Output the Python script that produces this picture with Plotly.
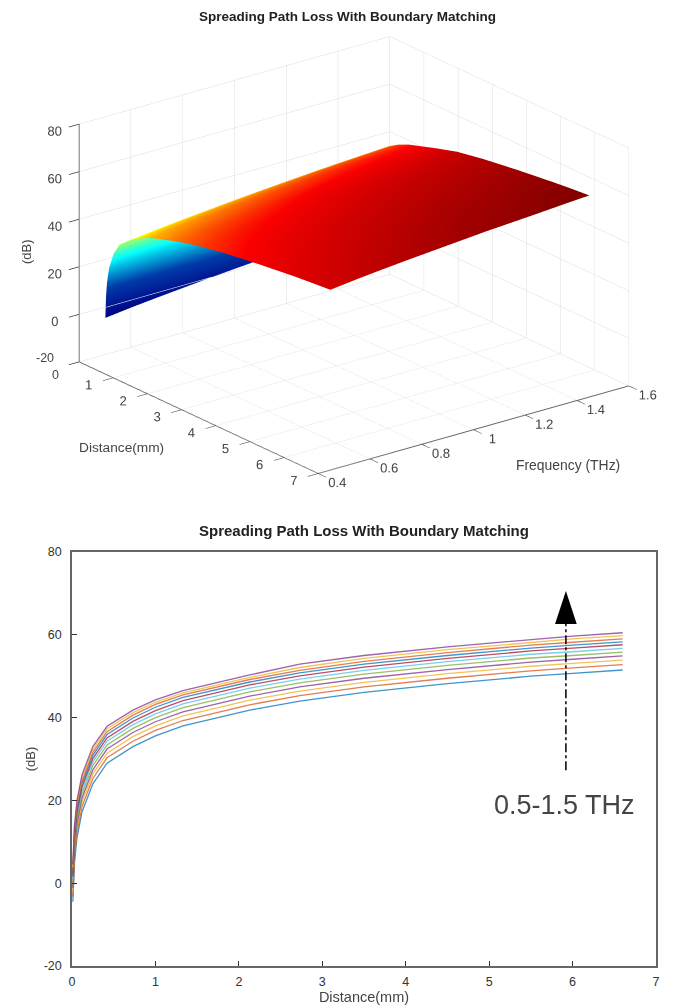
import plotly.graph_objects as go

distance_mm = [0.01, 0.03, 0.06, 0.12, 0.25, 0.42, 0.73, 1.0, 1.33, 2.13, 2.73, 3.5, 4.5, 5.5, 6.0, 6.6]
frequency_thz = [0.5, 0.6, 0.7, 0.8, 0.9, 1.0, 1.1, 1.2, 1.3, 1.4, 1.5]
loss_05 = [-4.5, 5.0, 11.0, 17.2, 24.0, 29.0, 33.0, 35.6, 38.0, 41.8, 44.0, 46.1, 48.2, 50.0, 50.7, 51.5]
loss_06 = [-3.2, 6.3, 12.3, 18.5, 25.3, 30.3, 34.3, 36.9, 39.3, 43.1, 45.3, 47.4, 49.5, 51.3, 52.0, 52.8]
loss_07 = [-2.1, 7.4, 13.4, 19.6, 26.4, 31.4, 35.4, 38.0, 40.4, 44.2, 46.4, 48.5, 50.6, 52.4, 53.1, 53.9]
loss_08 = [-1.1, 8.4, 14.4, 20.6, 27.4, 32.4, 36.4, 39.0, 41.4, 45.2, 47.4, 49.5, 51.6, 53.4, 54.1, 54.9]
loss_09 = [-0.1, 9.4, 15.4, 21.6, 28.4, 33.4, 37.4, 40.0, 42.4, 46.2, 48.4, 50.5, 52.6, 54.4, 55.0, 55.8]
loss_10 = [0.8, 10.3, 16.3, 22.5, 29.3, 34.3, 38.3, 40.9, 43.3, 47.1, 49.3, 51.4, 53.5, 55.3, 55.9, 56.7]
loss_11 = [1.6, 11.1, 17.1, 23.3, 30.1, 35.1, 39.1, 41.7, 44.1, 47.9, 50.1, 52.2, 54.3, 56.1, 56.8, 57.6]
loss_12 = [2.4, 11.9, 17.9, 24.1, 30.9, 35.9, 39.9, 42.5, 44.9, 48.6, 50.8, 52.9, 55.0, 56.8, 57.5, 58.3]
loss_13 = [3.1, 12.6, 18.6, 24.8, 31.6, 36.6, 40.6, 43.2, 45.5, 49.2, 51.4, 53.6, 55.7, 57.5, 58.2, 59.0]
loss_14 = [3.8, 13.3, 19.3, 25.5, 32.3, 37.3, 41.2, 43.7, 46.0, 49.7, 52.1, 54.3, 56.4, 58.2, 59.0, 59.8]
loss_15 = [4.5, 14.0, 20.0, 26.2, 33.0, 37.9, 41.8, 44.3, 46.5, 50.3, 52.9, 55.0, 57.1, 58.9, 59.7, 60.5]
loss_rows = [loss_05, loss_06, loss_07, loss_08, loss_09, loss_10, loss_11, loss_12, loss_13, loss_14, loss_15]
line_colors = ["#0072BD", "#D95319", "#EDB120", "#7E2F8E", "#77AC30", "#4DBEEE", "#A2142F",
               "#0072BD", "#D95319", "#EDB120", "#7E2F8E"]
z_ticks = [-20, 0, 20, 40, 60, 80]
z_tick_text = ["-20", "0", "20", "40", "60", "80"]
z_tick_text_3d = ["", "0", "20", "40", "60", "80"]
d_ticks_3d = [0, 1, 2, 3, 4, 5, 6, 7]
d_tick_text_3d = ["", "1", "2", "3", "4", "5", "6", "7"]
TITLE = "Spreading Path Loss With Boundary Matching"
FONT = "Liberation Sans, Arial, sans-serif"
GRID = "#dcdcdc"
AXIS = "#666666"

fig = go.Figure()
fig.add_trace(go.Surface(
    x=distance_mm, y=frequency_thz, z=loss_rows, colorscale="Jet", cmin=-5, cmax=60.5,
    showscale=False, lighting=dict(ambient=1, diffuse=0, specular=0, fresnel=0, roughness=1),
    contours=dict(z=dict(show=True, start=0, end=0.5, size=1, color="white", width=1)),
    scene="scene"))
for f, row, c in zip(frequency_thz, loss_rows, line_colors):
    fig.add_trace(go.Scatter(x=distance_mm, y=row, mode="lines", name=f"{f} THz",
                             line=dict(color=c, width=1.3), opacity=0.75,
                             xaxis="x", yaxis="y", showlegend=False))


def axis3d(rng, dtick, tick0):
    return dict(range=rng, dtick=dtick, tick0=tick0, title=dict(text=""), showbackground=False,
                showgrid=True, gridcolor=GRID, gridwidth=1, zeroline=False,
                showline=True, linecolor=AXIS, linewidth=2, ticks="outside", ticklen=13,
                tickcolor="#333333", tickwidth=1.5, showspikes=False, tickangle=0,
                tickfont=dict(family=FONT, size=12.5, color="#444444"))


def label(text, px, py, size, color="#444444", **kw):
    return dict(text=text, xref="paper", yref="paper", x=px / 680, y=1 - py / 1005,
                xanchor="center", yanchor="middle", showarrow=False,
                font=dict(size=size, color=color), **kw)


eye_r = 1.75
zoom = 1.59
xaxis3d = axis3d([0, 7], 1, 0)
xaxis3d.update(tickmode="array", tickvals=d_ticks_3d, ticktext=d_tick_text_3d)
zaxis3d = axis3d([-20, 80], 20, -20)
zaxis3d.update(tickmode="array", tickvals=z_ticks, ticktext=z_tick_text_3d)
fig.update_layout(
    width=680, height=1005, autosize=False, paper_bgcolor="white", plot_bgcolor="white",
    margin=dict(l=0, r=0, t=0, b=0), showlegend=False, font=dict(family=FONT, color="#333333"),
    scene=dict(
        domain=dict(x=[0.0412, 1.0], y=[1 - 500 / 1005, 1 - 10 / 1005]),
        xaxis=xaxis3d,
        yaxis=axis3d([0.4, 1.6], 0.2, 0.4),
        zaxis=zaxis3d,
        aspectmode="manual", aspectratio=dict(x=1.0 * zoom, y=1.01 * zoom, z=0.655 * zoom),
        camera=dict(projection=dict(type="orthographic"), up=dict(x=0, y=0, z=1),
                    center=dict(x=0, y=0, z=0),
                    eye=dict(x=0.736 * eye_r, y=-0.572 * eye_r, z=0.363 * eye_r)),
        bgcolor="white"),
    xaxis=dict(domain=[72 / 680, 656 / 680], anchor="y", range=[0, 7], dtick=1, showgrid=False,
               automargin=False, zeroline=False, showline=True, mirror=True, linecolor=AXIS, linewidth=1.5,
               ticks="inside", ticklen=5, tickcolor="#333333", tickfont=dict(size=12.5, color="#333333"),
               ticklabelstandoff=3,
               title=dict(text="Distance(mm)", font=dict(size=14.5, color="#444444"), standoff=2)),
    yaxis=dict(domain=[1 - 966 / 1005, 1 - 552 / 1005], anchor="x", range=[-20, 80], showgrid=False,
               automargin=False, tickmode="array", tickvals=z_ticks, ticktext=z_tick_text,
               zeroline=False, showline=True, mirror=True, linecolor=AXIS, linewidth=1.5,
               ticks="inside", ticklen=5, tickcolor="#333333", tickfont=dict(size=12.5, color="#333333"),
               ticklabelstandoff=6,
               title=dict(text="(dB)", font=dict(size=13, color="#444444"), standoff=5)),
    shapes=[
        dict(type="line", xref="x", yref="y", x0=5.92, x1=5.92, y0=27.3, y1=62.6,
             line=dict(color="black", width=1.5, dash="dashdot")),
        dict(type="path", xref="x", yref="y", path="M 5.79 62.6 L 6.05 62.6 L 5.92 70.6 Z",
             fillcolor="black", line=dict(color="black", width=0)),
    ],
    annotations=[
        label(f"<b>{TITLE}</b>", 347, 17, 13.5, "#222222"),
        label(f"<b>{TITLE}</b>", 364, 530, 15, "#222222"),
        label("0.5-1.5 THz", 564, 805, 27),
        label("Distance(mm)", 121, 447, 13.7),
        label("Frequency (THz)", 568, 465, 13.9),
        label("(dB)", 27, 252, 13, textangle=-90),
        label("-20", 45, 358, 12.5),
        label("0", 55, 375, 12.5),
    ],
)
fig.write_html("out.html", config={"displayModeBar": False},
               post_script="document.documentElement.style.overflow='hidden';document.body.style.margin='0';document.body.style.overflow='hidden';")
